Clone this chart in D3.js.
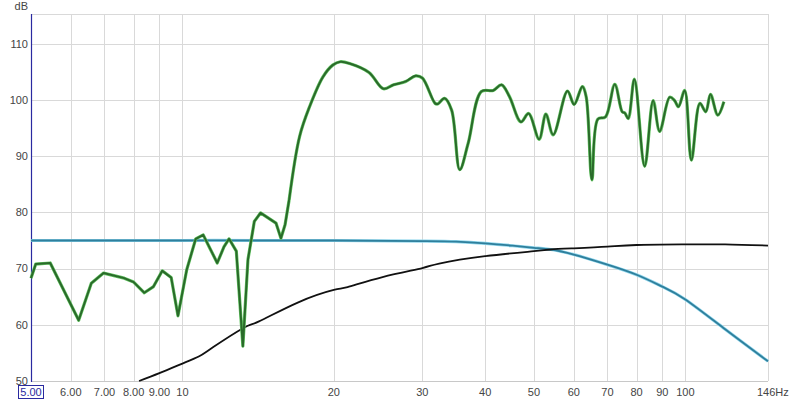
<!DOCTYPE html>
<html lang="en">
<head>
  <title>Frequency response</title>
  <meta http-equiv="content-type" content="text/html; charset=utf-8" />
<style>

body {
	margin:0px;
	background:#fff;
	font-family: 'Liberation Sans', Arial, sans-serif;
}

.grid line {
	stroke: #d9d9d9;
	stroke-width: 1px;
	shape-rendering: crispEdges;
}

.ticklabel {
	font-size: 11px;
	fill: #444;
}

</style>
</head>

<body>
	<svg width="799" height="400"></svg>

	<script src="https://cdn.jsdelivr.net/npm/d3@7"></script>
	<script>

	// measured response (green)
	var measFreq = [5.0, 5.11, 5.46, 6.22, 6.59, 6.97, 7.66, 8.0, 8.4, 8.76, 9.12, 9.5, 9.8, 10.2, 10.63, 11.0, 11.3, 11.73, 12.1, 12.38, 12.8, 13.19, 13.5, 13.9, 14.3, 15.35, 15.7, 16.0, 16.3,
		17.1, 17.9, 19.03, 19.9, 20.6, 21.5, 23.5, 25.1, 26.3, 27.8, 29.1, 30.0, 31.8, 32.2, 33.2, 34.3, 35.6, 37.0, 39.3, 41.5, 43.1, 44.7, 47.1, 48.8, 51.2, 52.8, 54.6, 58.3, 60.1, 62.4, 63.5, 65.2, 67.0, 69.4, 72.4, 74.9, 75.8, 77.0, 79.2, 83.0, 86.3, 88.9, 93.1, 95.2, 96.9, 99.7, 102.8, 106.9, 109.8, 112.2, 116.0, 119.3];
	var measDb = [68.3, 70.8, 71.0, 60.8, 67.4, 69.2, 68.3, 67.6, 65.7, 66.8, 69.6, 68.4, 61.6, 69.8, 75.3, 76.0, 73.9, 71.0, 73.9, 75.3, 73.1, 56.2, 71.6, 78.4, 79.9, 78.1, 75.4, 77.8, 82.2,
		93.5, 98.8, 104.1, 106.2, 106.8, 106.5, 104.9, 102.0, 102.7, 103.3, 104.3, 103.9, 99.4, 99.3, 100.3, 98.2, 87.6, 92.3, 101.5, 101.7, 102.7, 100.6, 96.1, 97.6, 93.0, 97.5, 93.8, 101.6, 99.2, 102.4, 100.6, 85.8, 96.6, 97.0, 102.8, 97.9, 97.7, 96.7, 103.7, 88.2, 99.9, 94.4, 100.5, 99.9, 98.8, 101.7, 89.3, 99.4, 97.9, 101.0, 97.3, 99.7];

	// target low pass (teal)
	var targetFreq = [5, 10, 20, 30, 35, 40, 45, 50, 54, 60, 70, 80, 90, 100, 120, 146];
	var targetDb = [75.0, 75.0, 75.0, 74.9, 74.8, 74.5, 74.1, 73.7, 73.4, 72.5, 70.7, 68.9, 66.8, 64.5, 59.2, 53.5];

	// house curve (black)
	var houseFreq = [8.2, 9, 10, 10.8, 11.5, 13.2, 14.2, 17, 20, 21.3, 25, 30, 32.4, 40, 50, 54, 60, 70, 80, 100, 120, 146];
	var houseDb = [50.0, 51.4, 53.1, 54.4, 56.0, 59.4, 60.6, 64.0, 66.2, 66.7, 68.5, 70.1, 70.9, 72.2, 73.1, 73.4, 73.6, 73.9, 74.2, 74.3, 74.3, 74.1];

	var xTicks = [5, 6, 7, 8, 9, 10, 20, 30, 40, 50, 60, 70, 80, 90, 100];
	var xTickLabels = ["5.00", "6.00", "7.00", "8.00", "9.00", "10", "20", "30", "40", "50", "60", "70", "80", "90", "100"];
	var yTicks = [50, 60, 70, 80, 90, 100, 110];

	var svg = d3.select("svg"),
		pLeft = 31, pRight = 768, pTop = 14, pBottom = 381;

	var x = d3.scaleLog()
		.domain([5, 146])
		.range([pLeft, pRight]);

	var y = d3.scaleLinear()
		.domain([50, 115.3])
		.range([pBottom, pTop]);

	// grid
	var grid = svg.append("g").attr("class", "grid");

	grid.selectAll(".v").data(xTicks.slice(1)).enter().append("line")
		.attr("x1", function(d) { return Math.round(x(d)) + 0.5; })
		.attr("x2", function(d) { return Math.round(x(d)) + 0.5; })
		.attr("y1", pTop)
		.attr("y2", pBottom);

	grid.selectAll(".h").data(yTicks.slice(1)).enter().append("line")
		.attr("x1", pLeft)
		.attr("x2", pRight)
		.attr("y1", function(d) { return Math.round(y(d)) + 0.5; })
		.attr("y2", function(d) { return Math.round(y(d)) + 0.5; });

	// frame
	grid.append("line").attr("x1", pLeft).attr("x2", pRight).attr("y1", pTop + 0.5).attr("y2", pTop + 0.5);
	grid.append("line").attr("x1", pRight + 0.5).attr("x2", pRight + 0.5).attr("y1", pTop).attr("y2", pBottom);
	grid.append("line").attr("x1", pLeft).attr("x2", pRight).attr("y1", pBottom + 0.5).attr("y2", pBottom + 0.5)
		.style("stroke", "#c8c8c8");
	svg.append("line")
		.attr("x1", pLeft + 0.5).attr("x2", pLeft + 0.5).attr("y1", pTop).attr("y2", pBottom + 1)
		.style("stroke", "#2a2aa0")
		.style("stroke-width", 1.2);

	// y labels
	svg.selectAll(".ylab").data(yTicks).enter().append("text")
		.attr("class", "ticklabel")
		.attr("x", 28)
		.attr("y", function(d) { return y(d); })
		.attr("dy", "0.35em")
		.attr("text-anchor", "end")
		.text(function(d) { return d; });

	svg.append("text")
		.attr("class", "ticklabel")
		.attr("x", 28)
		.attr("y", 10)
		.attr("text-anchor", "end")
		.text("dB");

	// x labels
	svg.selectAll(".xlab").data(xTicks.slice(1)).enter().append("text")
		.attr("class", "ticklabel")
		.attr("x", function(d) { return x(d); })
		.attr("y", 396)
		.attr("text-anchor", "middle")
		.text(function(d, i) { return xTickLabels[i + 1]; });

	svg.append("rect")
		.attr("x", 18.5).attr("y", 385.5)
		.attr("width", 25).attr("height", 13)
		.style("fill", "#fff")
		.style("stroke", "#2a2aa0");
	svg.append("text")
		.attr("class", "ticklabel")
		.attr("x", 31)
		.attr("y", 396)
		.attr("text-anchor", "middle")
		.style("fill", "#2a2aa0")
		.text(xTickLabels[0]);

	svg.append("text")
		.attr("class", "ticklabel")
		.attr("x", 757)
		.attr("y", 396)
		.text("146Hz");

	// curves
	var plot = svg.append("g");

	function pts(f, v) {
		return f.map(function(d, i) { return [x(d), y(v[i])]; });
	}

	var lineNatural = d3.line().curve(d3.curveNatural);
	var lineSmooth = d3.line().curve(d3.curveCatmullRom.alpha(0.5));
	var lineStraight = d3.line();

	var target = pts(targetFreq, targetDb);
	plot.append("path").attr("d", lineNatural(target))
		.style("fill", "none").style("stroke", "#8fd6ec").style("stroke-width", 3.2);
	plot.append("path").attr("d", lineNatural(target))
		.style("fill", "none").style("stroke", "#2f7f9c").style("stroke-width", 1.8);

	var house = pts(houseFreq, houseDb);
	plot.append("path").attr("d", lineNatural(house))
		.style("fill", "none").style("stroke", "#111").style("stroke-width", 1.8);

	var meas = pts(measFreq, measDb);
	var lowPart = meas.slice(0, 29), highPart = meas.slice(28);
	[lowPart, highPart].forEach(function(p, k) {
		var gen = k == 0 ? lineStraight : lineSmooth;
		plot.append("path").attr("d", gen(p))
			.style("fill", "none").style("stroke", "#62c462").style("stroke-width", 3.2)
			.style("stroke-linejoin", "round");
		plot.append("path").attr("d", gen(p))
			.style("fill", "none").style("stroke", "#2a6a2a").style("stroke-width", 2)
			.style("stroke-linejoin", "round");
	});

	</script>
</body>
</html>
